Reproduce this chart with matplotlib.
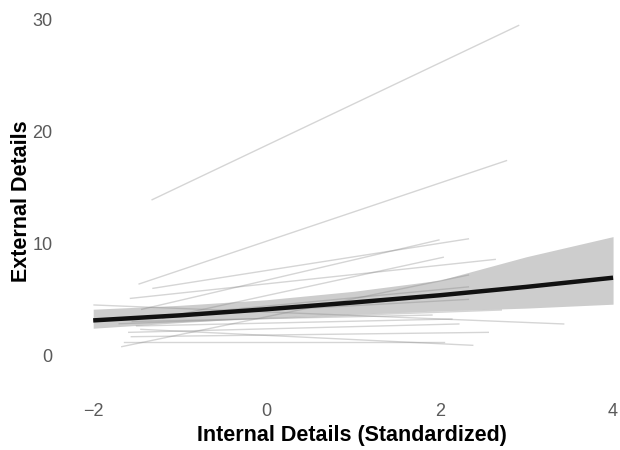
import numpy as np
import matplotlib.pyplot as plt

# individual participant fits: start/end points
x_start = [-1.32, -1.47, -1.31, -1.44, -1.57, -1.20, -1.67, -1.60, -1.99,
           -1.70, -1.55, -1.50, -1.59, -1.40, -1.56, -1.65, -1.45]
y_start = [13.9, 6.36, 5.97, 4.09, 5.07, 3.30, 0.75, 3.20, 4.48,
           2.80, 3.00, 2.60, 2.03, 3.40, 1.64, 1.19, 2.30]
x_end = [2.91, 2.77, 2.33, 1.99, 2.64, 2.04, 2.33, 2.33, 3.43,
         2.71, 1.91, 2.14, 2.22, 2.33, 2.56, 2.05, 2.38]
y_end = [29.5, 17.4, 10.4, 10.3, 8.56, 8.75, 7.16, 6.10, 2.78,
         4.03, 3.58, 3.22, 2.78, 4.98, 2.03, 1.19, 0.87]

# population fit with its confidence band
fit_x = [-2, -1, 0, 1, 2, 3, 4]
fit_y = [3.1, 3.55, 4.1, 4.7, 5.35, 6.1, 6.92]
fit_lo = [2.4, 2.9, 3.35, 3.65, 3.95, 4.2, 4.55]
fit_hi = [4.1, 4.45, 4.95, 5.7, 6.7, 8.8, 10.6]

x_ticks = [-2, 0, 2, 4]
y_ticks = [0, 10, 20, 30]

plt.rcParams['font.family'] = ['Liberation Sans', 'DejaVu Sans']

fig = plt.figure(figsize=(6.2, 4.5), dpi=100)
ax = fig.add_axes([62 / 620, 80 / 450, 1 - 62 / 620, 365 / 450])

ax.fill_between(fit_x, fit_lo, fit_hi, color='#cdcdcd', lw=0, zorder=1)
for xs, ys, xe, ye in zip(x_start, y_start, x_end, y_end):
    ax.plot([xs, xe], [ys, ye], color='grey', alpha=0.33, lw=1.0, zorder=2)
ax.plot(fit_x, fit_y, color='#111111', lw=3.2, solid_capstyle='butt', zorder=3)

ax.set_xlim(-2.36, 4.08)
ax.set_ylim(-1.34, 31.33)
ax.set_xticks(x_ticks)
ax.set_yticks(y_ticks)
ax.set_xticklabels(['\u22122', '0', '2', '4'])
for s in ax.spines.values():
    s.set_visible(False)
ax.tick_params(length=0, labelsize=13, labelcolor='#5a5a5a')
ax.tick_params(axis='x', pad=24)
ax.tick_params(axis='y', pad=7)

ax.set_xlabel('Internal Details (Standardized)', fontsize=15.5, fontweight='bold',
              va='center')
ax.set_ylabel('External Details', fontsize=15.5, fontweight='bold', va='center')
ax.xaxis.set_label_coords((352 - 62) / 558, -(435 - 370) / 365)
ax.yaxis.set_label_coords(-(62 - 22) / 558, (370 - 201) / 365)

fig.savefig('out.png', dpi=100)
